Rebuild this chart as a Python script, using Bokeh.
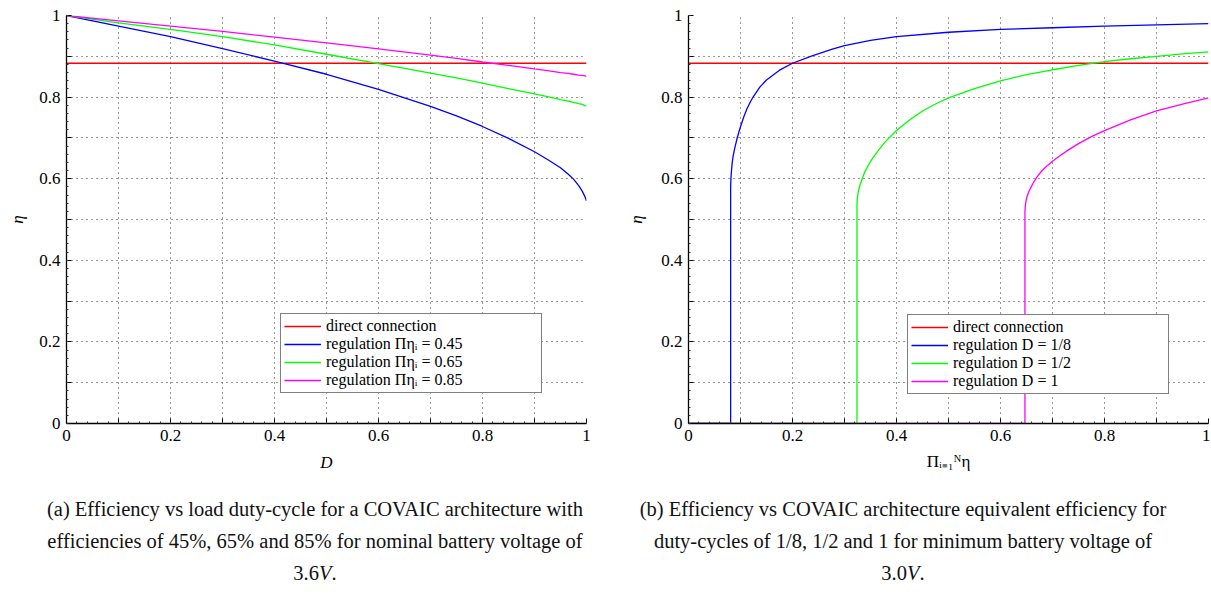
from bokeh.plotting import figure
from bokeh.models import Range1d, FixedTicker, Legend, LegendItem, Div
from bokeh.layouts import column, row
from bokeh.embed import file_html
from bokeh.resources import INLINE

# ---------------- data ----------------
X_DOMAIN = [0.0, 1.0]
DIRECT_ETA = 0.883

# left panel: eta vs duty-cycle D
D_VALUES = [0.0, 0.1, 0.2, 0.3, 0.4, 0.5, 0.6, 0.7, 0.75, 0.8, 0.85, 0.9, 0.925, 0.95, 0.965,
            0.975, 0.985, 0.992, 0.997, 1.0]
ETA_PI045 = [1.0, 0.974, 0.948, 0.919, 0.888, 0.856, 0.819, 0.777, 0.754, 0.728, 0.699, 0.666,
             0.647, 0.627, 0.611, 0.599, 0.583, 0.569, 0.556, 0.546]
ETA_PI065 = [1.0, 0.982, 0.966, 0.948, 0.928, 0.905, 0.882, 0.859, 0.847, 0.834, 0.821, 0.808,
             0.801, 0.794, 0.790, 0.787, 0.784, 0.782, 0.779, 0.778]
ETA_PI085 = [1.0, 0.987, 0.974, 0.961, 0.947, 0.933, 0.918, 0.903, 0.895, 0.886, 0.878, 0.869,
             0.865, 0.860, 0.858, 0.856, 0.854, 0.853, 0.852, 0.851]
LEFT_LABELS = ["direct connection", "regulation Πηᵢ = 0.45", "regulation Πηᵢ = 0.65",
               "regulation Πηᵢ = 0.85"]

# right panel: eta vs equivalent efficiency
PI_D18 = [0.0, 0.081, 0.081, 0.08106, 0.08113, 0.08125, 0.08138, 0.08163, 0.0820, 0.0825, 0.08313,
          0.08388, 0.08488, 0.08613, 0.08763, 0.0895, 0.09138, 0.09388, 0.0970, 0.10013, 0.10638,
          0.11263, 0.11888, 0.1251, 0.1375, 0.15, 0.175, 0.2, 0.235, 0.275, 0.3, 0.35, 0.4, 0.5,
          0.6, 0.7, 0.8, 0.9, 1.0]
ETA_D18 = [0.0, 0.0, 0.567, 0.577, 0.581, 0.589, 0.594, 0.601, 0.609, 0.617, 0.627,
           0.637, 0.647, 0.657, 0.667, 0.678, 0.688, 0.701, 0.715, 0.728, 0.752,
           0.772, 0.788, 0.802, 0.825, 0.842, 0.866, 0.883, 0.900, 0.917, 0.926, 0.939, 0.948, 0.959,
           0.966, 0.970, 0.974, 0.977, 0.980]
PI_D12 = [0.0, 0.324, 0.324, 0.32425, 0.3245, 0.325, 0.3255, 0.3265, 0.328, 0.330, 0.3325, 0.3355,
          0.3395, 0.3445, 0.3505, 0.358, 0.3655, 0.3755, 0.388, 0.40, 0.425, 0.45, 0.475, 0.50,
          0.55, 0.60, 0.65, 0.70, 0.75, 0.80, 0.85, 0.90, 0.95, 1.0]
ETA_D12 = [0.0, 0.0, 0.535, 0.543, 0.548, 0.555, 0.560, 0.568, 0.576, 0.585, 0.595, 0.605,
           0.618, 0.630, 0.643, 0.657, 0.670, 0.686, 0.703, 0.718, 0.744, 0.766, 0.783, 0.798,
           0.821, 0.840, 0.855, 0.867, 0.878, 0.887, 0.894, 0.900, 0.906, 0.911]
PI_D1 = [0.0, 0.647, 0.647, 0.6475, 0.648, 0.649, 0.650, 0.652, 0.655, 0.659, 0.664, 0.670, 0.678,
         0.688, 0.700, 0.715, 0.730, 0.750, 0.775, 0.800, 0.850, 0.900, 0.950, 1.0]
ETA_D1 = [0.0, 0.0, 0.518, 0.530, 0.536, 0.545, 0.551, 0.560, 0.570, 0.580, 0.592, 0.604, 0.617,
          0.630, 0.643, 0.657, 0.670, 0.686, 0.703, 0.718, 0.744, 0.766, 0.783, 0.798]
RIGHT_LABELS = ["direct connection", "regulation D = 1/8", "regulation D = 1/2", "regulation D = 1"]

TICKS = [0.0, 0.1, 0.2, 0.3, 0.4, 0.5, 0.6, 0.7, 0.8, 0.9, 1.0]
TICK_LABELS = ["0", "", "0.2", "", "0.4", "", "0.6", "", "0.8", "", "1"]
MINOR_TICKS = [i / 50 for i in range(51)]

CAPTION_A = ["(a) Efficiency vs load duty-cycle for a COVAIC architecture with",
             "efficiencies of 45%, 65% and 85% for nominal battery voltage of",
             "3.6<i>V</i>."]
CAPTION_B = ["(b) Efficiency vs COVAIC architecture equivalent efficiency for",
             "duty-cycles of 1/8, 1/2 and 1 for minimum battery voltage of",
             "3.0<i>V</i>."]

COLORS = ["#ff0000", "#0000ff", "#00ff00", "#ff00ff"]
FONT = "Liberation Serif"


def style(p, xlabel, xlabel_italic, ylabel_standoff, xlabel_standoff):
    p.outline_line_color = None
    p.background_fill_color = "white"
    p.border_fill_color = "white"
    for ax in (p.xaxis[0], p.yaxis[0]):
        ax.ticker = FixedTicker(ticks=TICKS, minor_ticks=MINOR_TICKS)
        ax.major_label_overrides = dict(zip(TICKS, TICK_LABELS))
        ax.major_tick_in = 5
        ax.major_tick_out = 0
        ax.minor_tick_in = 2
        ax.minor_tick_out = 0
        ax.axis_line_color = "black"
        ax.axis_line_width = 1.3
        ax.major_tick_line_color = "black"
        ax.minor_tick_line_color = "#333333"
        ax.major_label_text_font = FONT
        ax.major_label_text_font_size = "17px"
        ax.major_label_text_color = "black"
        ax.major_label_standoff = 6
        ax.axis_label_text_font = FONT
        ax.axis_label_text_font_size = "17px"
        ax.axis_label_text_color = "black"
    p.yaxis[0].axis_label = "η"
    p.yaxis[0].axis_label_text_font_style = "italic"
    p.yaxis[0].axis_label_standoff = ylabel_standoff
    p.xaxis[0].axis_label = xlabel
    p.xaxis[0].axis_label_text_font_style = "italic" if xlabel_italic else "normal"
    p.xaxis[0].axis_label_standoff = xlabel_standoff
    for g in (p.xgrid[0], p.ygrid[0]):
        g.ticker = FixedTicker(ticks=TICKS)
        g.grid_line_color = "#333333"
        g.grid_line_dash = "1 4"
        g.grid_line_width = 1


def add_legend(p, renderers, labels, loc, label_width):
    leg = Legend(items=[LegendItem(label=l, renderers=[r]) for l, r in zip(labels, renderers)],
                 location=loc)
    leg.border_line_color = "black"
    leg.border_line_width = 1.5
    leg.background_fill_color = "white"
    leg.background_fill_alpha = 1
    leg.label_text_font = FONT
    leg.label_text_font_size = "16px"
    leg.label_text_color = "black"
    leg.label_height = 14
    leg.label_width = label_width
    leg.glyph_height = 14
    leg.glyph_width = 37
    leg.label_standoff = 5
    leg.spacing = 0
    leg.padding = 3
    leg.margin = 0
    p.add_layout(leg)


# ---------------- left figure ----------------
p1 = figure(width=608, height=488, x_range=Range1d(0, 1), y_range=Range1d(0, 1),
            output_backend="svg", toolbar_location=None,
            min_border_left=66, min_border_right=22, min_border_top=15, min_border_bottom=62)
style(p1, "D", True, 9, 9)
r_direct = p1.line(X_DOMAIN, [DIRECT_ETA, DIRECT_ETA], line_color=COLORS[0], line_width=1.3)
r45 = p1.line(D_VALUES, ETA_PI045, line_color=COLORS[1], line_width=1.3)
r65 = p1.line(D_VALUES, ETA_PI065, line_color=COLORS[2], line_width=1.3)
r85 = p1.line(D_VALUES, ETA_PI085, line_color=COLORS[3], line_width=1.3)
add_legend(p1, [r_direct, r45, r65, r85], LEFT_LABELS, (214, 30), 212)

# ---------------- right figure ----------------
p2 = figure(width=602, height=488, x_range=Range1d(0, 1), y_range=Range1d(0, 1),
            output_backend="svg", toolbar_location=None,
            min_border_left=80, min_border_right=2, min_border_top=13, min_border_bottom=65)
style(p2, "Πᵢ₌₁ᴺη", False, 12, 8)
q_direct = p2.line(X_DOMAIN, [DIRECT_ETA, DIRECT_ETA], line_color=COLORS[0], line_width=1.3)
q18 = p2.line(PI_D18, ETA_D18, line_color=COLORS[1], line_width=1.3)
q12 = p2.line(PI_D12, ETA_D12, line_color=COLORS[2], line_width=1.3)
q1 = p2.line(PI_D1, ETA_D1, line_color=COLORS[3], line_width=1.3)
add_legend(p2, [q_direct, q18, q12, q1], RIGHT_LABELS, (219, 29), 212)


def caption(lines, left, width, total):
    html = ('<div style="font-family:\'Liberation Serif\',serif; font-size:20.5px; line-height:32px; '
            'text-align:center; color:#111; margin-left:%dpx; width:%dpx; padding-top:5px;">%s</div>'
            % (left, width, "<br>".join(lines)))
    return Div(text=html, width=total, height=105, margin=0)


d1 = caption(CAPTION_A, 30, 570, 608)
d2 = caption(CAPTION_B, 25, 540, 602)

layout = column(row(p1, p2), row(d1, d2))
open("out.html", "w").write(file_html(layout, INLINE))
